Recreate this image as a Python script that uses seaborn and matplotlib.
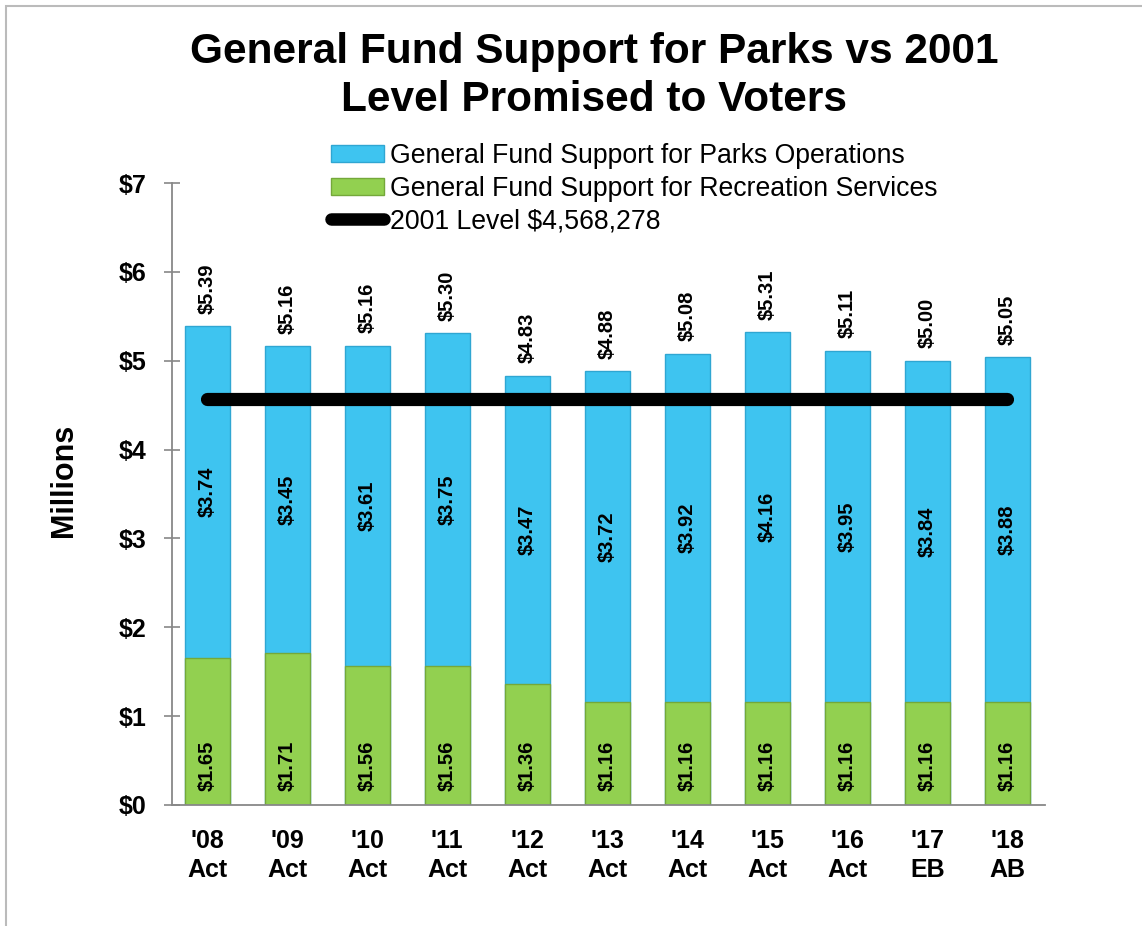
import matplotlib
matplotlib.use("Agg")
import matplotlib.pyplot as plt
import matplotlib.patches as mpatches
from matplotlib.lines import Line2D
import seaborn as sns
import numpy as np
import pandas as pd

# ---- data ----
categories = ["'08\nAct", "'09\nAct", "'10\nAct", "'11\nAct", "'12\nAct", "'13\nAct",
              "'14\nAct", "'15\nAct", "'16\nAct", "'17\nEB", "'18\nAB"]
parks_ops = [3.74, 3.45, 3.61, 3.75, 3.47, 3.72, 3.92, 4.16, 3.95, 3.84, 3.88]
recreation = [1.65, 1.71, 1.56, 1.56, 1.36, 1.16, 1.16, 1.16, 1.16, 1.16, 1.16]
totals = [5.39, 5.16, 5.16, 5.30, 4.83, 4.88, 5.08, 5.31, 5.11, 5.00, 5.05]
level_2001 = 4.568278
y_ticks = [0, 1, 2, 3, 4, 5, 6, 7]
y_tick_labels = ["$0", "$1", "$2", "$3", "$4", "$5", "$6", "$7"]
title = "General Fund Support for Parks vs 2001\nLevel Promised to Voters"
legend_labels = ["General Fund Support for Parks Operations",
                 "General Fund Support for Recreation Services",
                 "2001 Level $4,568,278"]

BLUE = "#3EC4F0"
BLUE_EDGE = "#2FA6D2"
GREEN = "#92D050"
GREEN_EDGE = "#74A83A"

sns.set_theme(style="white")
plt.rcParams["font.family"] = ["Liberation Sans", "DejaVu Sans"]
for k in ["text.color", "axes.labelcolor", "xtick.color", "ytick.color"]:
    plt.rcParams[k] = "black"

fig = plt.figure(figsize=(11.42, 9.26), dpi=100)
ax = fig.add_axes([172 / 1142, 1 - 805 / 926, (1045 - 172) / 1142, (805 - 183) / 926])

df = pd.DataFrame({"cat": categories, "parks": parks_ops, "rec": recreation})
df["stack"] = df["parks"] + df["rec"]

bw = 0.565
sns.barplot(data=df, x="cat", y="stack", order=categories, color=BLUE,
            saturation=1, width=bw, edgecolor=BLUE_EDGE, linewidth=1.0, ax=ax)
sns.barplot(data=df, x="cat", y="rec", order=categories, color=GREEN,
            saturation=1, width=bw, edgecolor=GREEN_EDGE, linewidth=1.0, ax=ax)

n = len(categories)
sns.lineplot(x=[0, n - 1], y=[level_2001, level_2001], color="black",
             linewidth=9.5, solid_capstyle="round", ax=ax, legend=False)

# labels
for i in range(n):
    ax.annotate(f"${totals[i]:.2f}", (i, df["stack"][i]), xytext=(0, 9),
                textcoords="offset points", rotation=90, ha="center", va="bottom",
                fontsize=14.5, fontweight="bold", color="black")
    ax.annotate(f"${parks_ops[i]:.2f}", (i, recreation[i] + parks_ops[i] / 2),
                rotation=90, ha="center", va="center",
                fontsize=14.5, fontweight="bold", color="black")
    ax.annotate(f"${recreation[i]:.2f}", (i, 0), xytext=(0, 10),
                textcoords="offset points", rotation=90, ha="center", va="bottom",
                fontsize=14.5, fontweight="bold", color="black")

ax.set_ylim(0, 7)
ax.set_xlim(-0.44, n - 1 + 0.47)
ax.set_yticks(y_ticks)
ax.set_yticklabels(y_tick_labels, fontsize=18, fontweight="bold")
ax.set_xticks(range(n))
ax.set_xticklabels(categories, fontsize=18, fontweight="bold", linespacing=1.3)
ax.tick_params(axis="y", direction="inout", length=11, width=1.2, color="#888888",
               pad=13, left=True)
ax.tick_params(axis="x", length=0, pad=17)
ax.set_xlabel("")
ax.set_ylabel("Millions", fontsize=22, fontweight="bold")
ax.yaxis.set_label_coords((79 - 172) / 873, (805 - 480) / 622)
for s in ["top", "right"]:
    ax.spines[s].set_visible(False)
for s in ["left", "bottom"]:
    ax.spines[s].set_color("#888888")
    ax.spines[s].set_linewidth(1.3)
ax.grid(False)

fig.text(594 / 1142, 1 - 76 / 926, title, ha="center", va="center",
         fontsize=30.5, fontweight="bold", linespacing=1.28)

handles = [mpatches.Patch(facecolor=BLUE, edgecolor=BLUE_EDGE, linewidth=1),
           mpatches.Patch(facecolor=GREEN, edgecolor=GREEN_EDGE, linewidth=1),
           Line2D([0], [0], color="black", linewidth=9, solid_capstyle="round")]
fig.legend(handles, legend_labels, loc="upper left",
           bbox_to_anchor=(331 / 1142, 1 - 143 / 926), frameon=False,
           fontsize=19.2, handlelength=2.0, handleheight=0.6, handletextpad=0.2,
           labelspacing=0.25, borderaxespad=0, borderpad=0)

# figure border (left/top visible)
border = mpatches.Rectangle((6 / 1142, -0.05), 1.2, 1.05 - 6 / 926,
                            transform=fig.transFigure, fill=False,
                            edgecolor="#BBBBBB", linewidth=1.5, clip_on=False)
fig.patches.append(border)

fig.savefig("out.png", dpi=100)
